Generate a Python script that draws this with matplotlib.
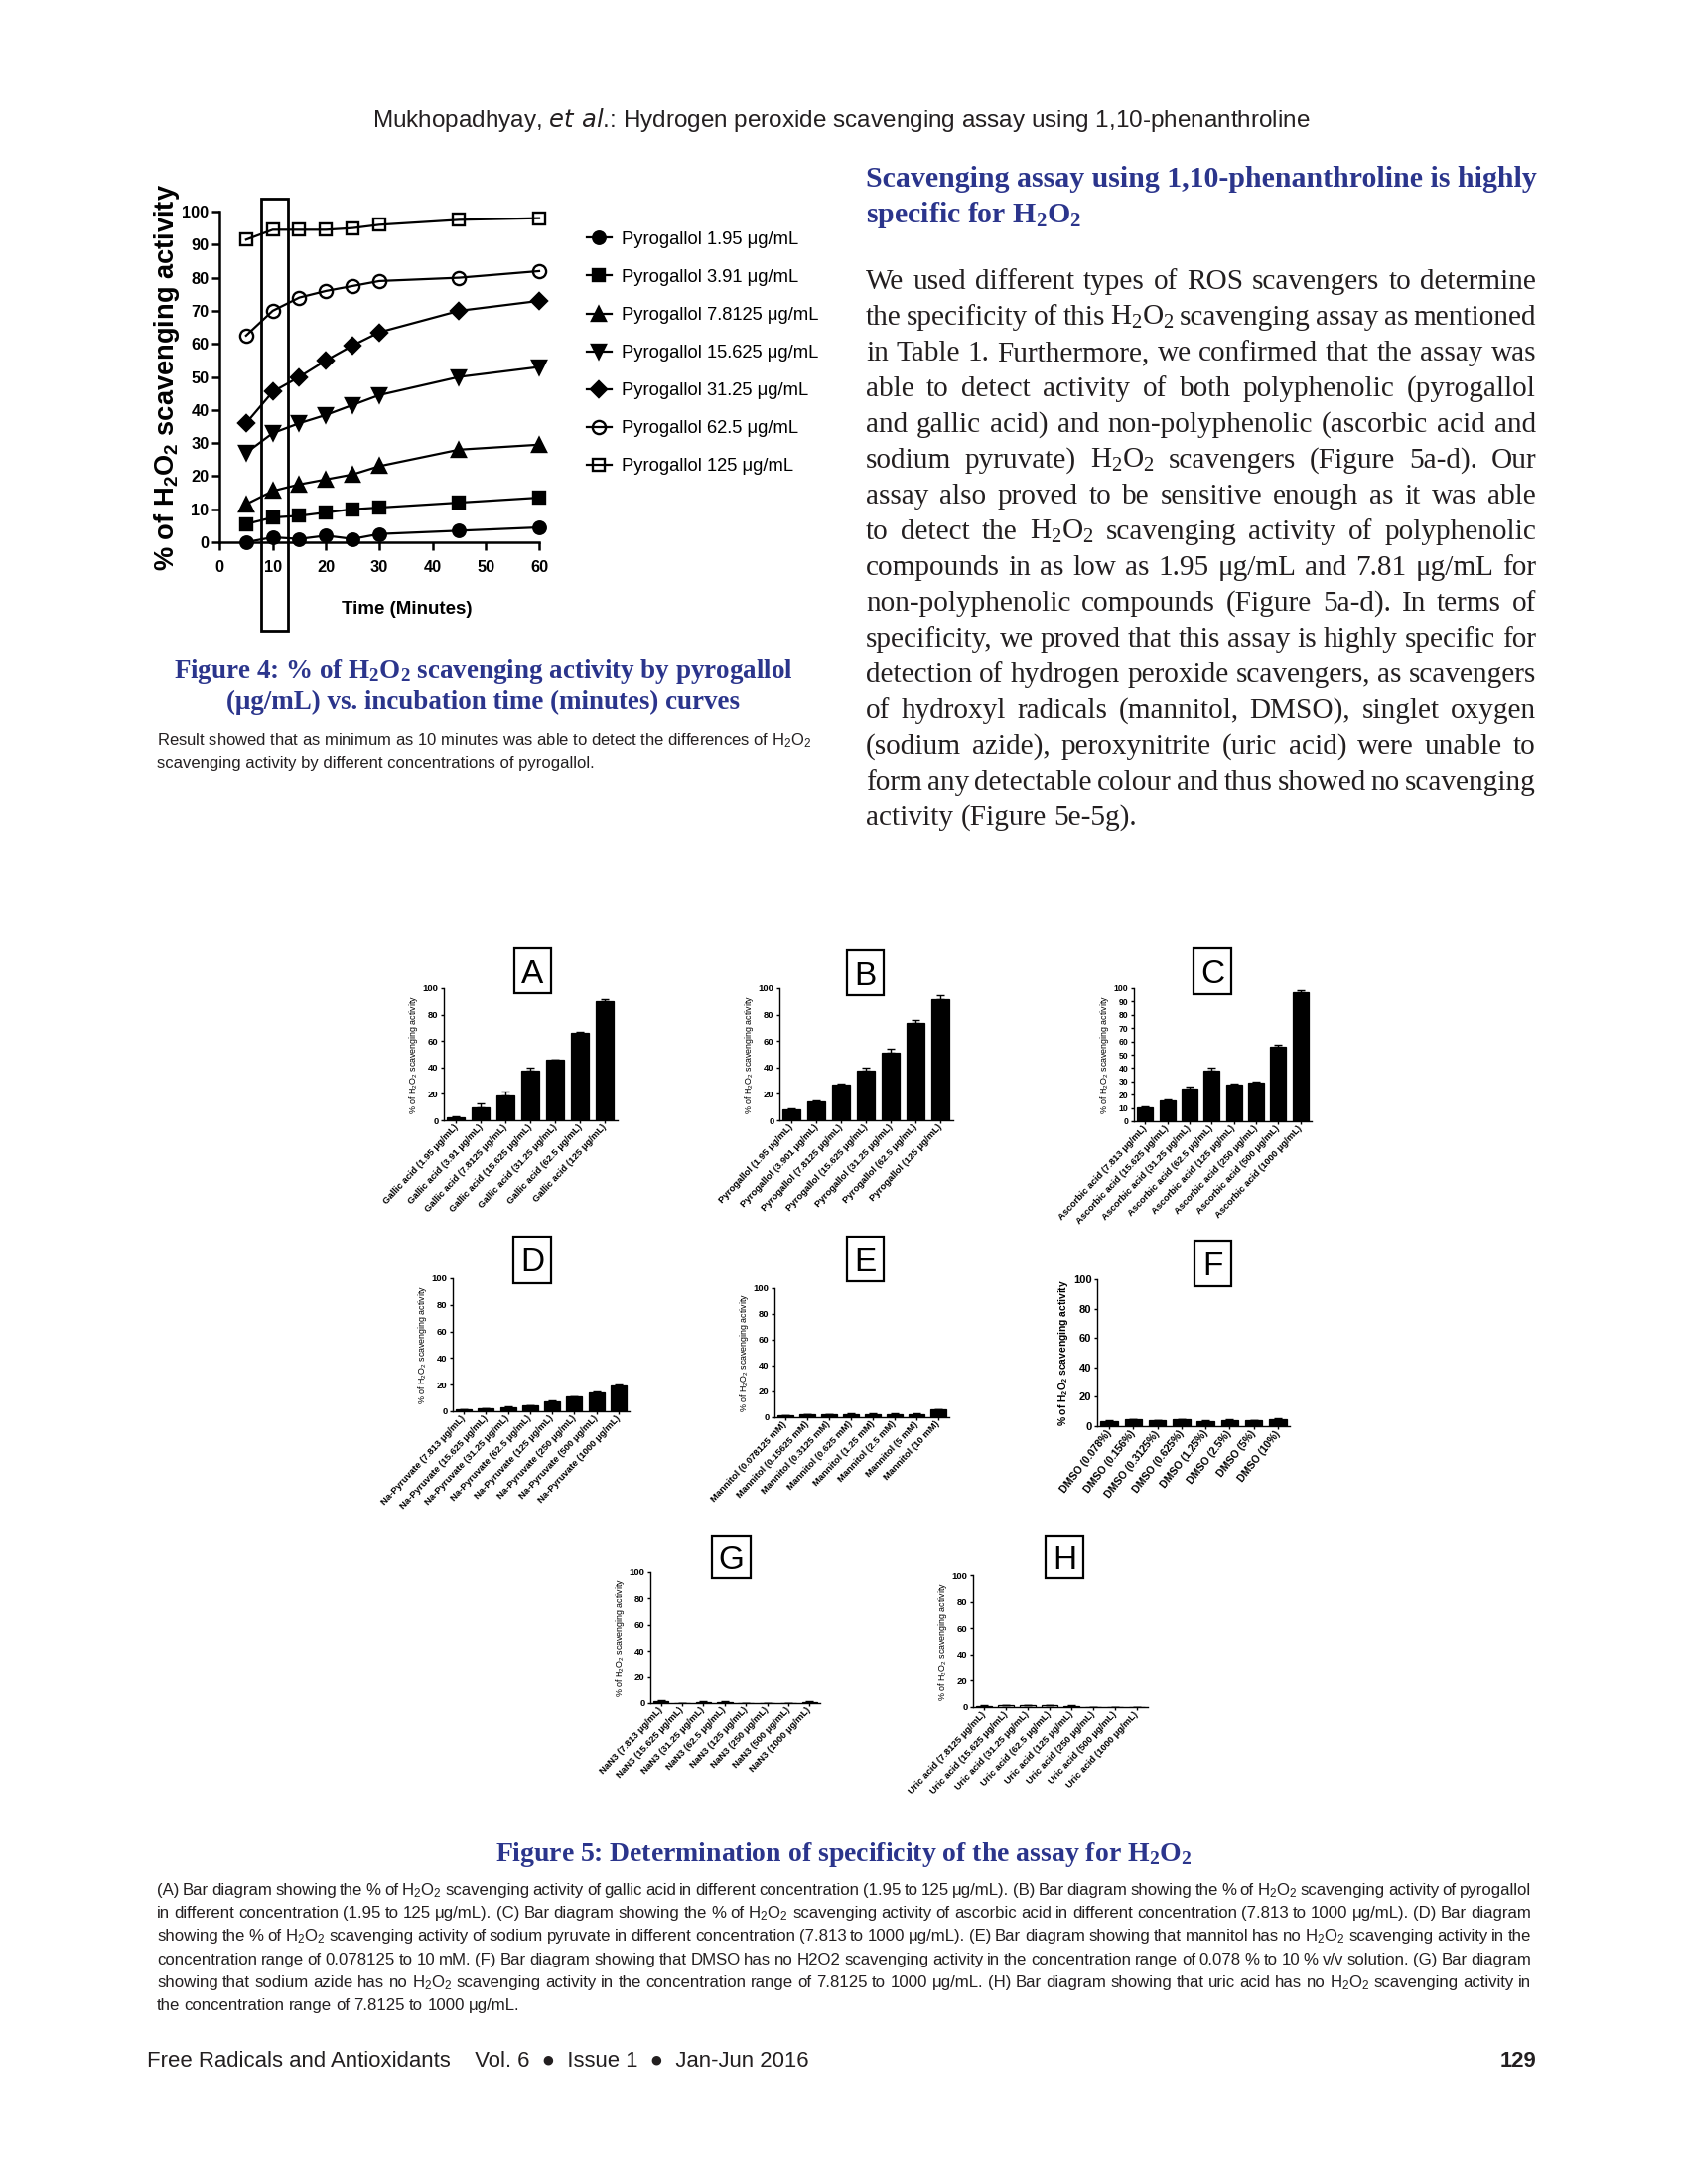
import matplotlib
matplotlib.use('Agg')
import matplotlib.pyplot as plt
from matplotlib import font_manager as fm
from matplotlib.patches import Rectangle
import numpy as np

# ---------------- data ----------------
time_min = [5, 10, 15, 20, 25, 30, 45, 60]
pyro_labels = ['Pyrogallol 1.95 μg/mL', 'Pyrogallol 3.91 μg/mL', 'Pyrogallol 7.8125 μg/mL',
               'Pyrogallol 15.625 μg/mL', 'Pyrogallol 31.25 μg/mL', 'Pyrogallol 62.5 μg/mL',
               'Pyrogallol 125 μg/mL']
pyro_1_95 = [0, 1.5, 1, 2, 1, 2.5, 3.5, 4.5]
pyro_3_91 = [5.5, 7.5, 8, 9, 10, 10.5, 12, 13.5]
pyro_7_8125 = [11.5, 15.5, 17.5, 19, 20.5, 23, 28, 29.5]
pyro_15_625 = [27, 33, 36, 38.5, 41.5, 44.5, 50, 53]
pyro_31_25 = [36, 45.5, 50, 55, 59.5, 63.5, 70, 73]
pyro_62_5 = [62.5, 70, 74, 76, 77.5, 79, 80, 82]
pyro_125 = [91.5, 94.5, 94.5, 94.5, 95, 96, 97.5, 98]
x_ticks4 = [0, 10, 20, 30, 40, 50, 60]
y_ticks4 = [0, 10, 20, 30, 40, 50, 60, 70, 80, 90, 100]

A_labels = ['Gallic acid (1.95 μg/mL)', 'Gallic acid (3.91 μg/mL)', 'Gallic acid (7.8125 μg/mL)',
            'Gallic acid (15.625 μg/mL)', 'Gallic acid (31.25 μg/mL)', 'Gallic acid (62.5 μg/mL)',
            'Gallic acid (125 μg/mL)']
A_vals = [2, 10, 18.5, 37.5, 45.5, 66, 90.5]
A_errs = [0.7, 2.5, 3, 2.5, 0.5, 1, 1]

B_labels = ['Pyrogallol (1.95 μg/mL)', 'Pyrogallol (3.901 μg/mL)', 'Pyrogallol (7.8125 μg/mL)',
            'Pyrogallol (15.625 μg/mL)', 'Pyrogallol (31.25 μg/mL)', 'Pyrogallol (62.5 μg/mL)',
            'Pyrogallol (125 μg/mL)']
B_vals = [8, 14, 27, 37.5, 51, 73.5, 91.5]
B_errs = [0.7, 1.3, 0.7, 2.5, 3, 2.5, 3.5]

C_labels = ['Ascorbic acid (7.813 μg/mL)', 'Ascorbic acid (15.625 μg/mL)', 'Ascorbic acid (31.25 μg/mL)',
            'Ascorbic acid (62.5 μg/mL)', 'Ascorbic acid (125 μg/mL)', 'Ascorbic acid (250 μg/mL)',
            'Ascorbic acid (500 μg/mL)', 'Ascorbic acid (1000 μg/mL)']
C_vals = [10.5, 15.5, 25, 38, 27.5, 29, 56, 97]
C_errs = [1, 0.7, 1, 2.5, 1, 0.7, 1.3, 1.3]

D_labels = ['Na-Pyruvate (7.813 μg/mL)', 'Na-Pyruvate (15.625 μg/mL)', 'Na-Pyruvate (31.25 μg/mL)',
            'Na-Pyruvate (62.5 μg/mL)', 'Na-Pyruvate (125 μg/mL)', 'Na-Pyruvate (250 μg/mL)',
            'Na-Pyruvate (500 μg/mL)', 'Na-Pyruvate (1000 μg/mL)']
D_vals = [1.5, 2, 3, 4.5, 7.5, 11, 14.5, 19.5]
D_errs = [0.3, 0.3, 0.4, 0.3, 0.4, 0.5, 0.5, 0.6]

E_labels = ['Mannitol (0.078125 mM)', 'Mannitol (0.15625 mM)', 'Mannitol (0.3125 mM)',
            'Mannitol (0.625 mM)', 'Mannitol (1.25 mM)', 'Mannitol (2.5 mM)',
            'Mannitol (5 mM)', 'Mannitol (10 mM)']
E_vals = [1.5, 2, 2, 2.5, 2.5, 2.5, 2.5, 6]
E_errs = [0.3, 0.2, 0.2, 0.3, 0.3, 0.3, 0.2, 0.5]

F_labels = ['DMSO (0.078%)', 'DMSO (0.156%)', 'DMSO (0.3125%)', 'DMSO (0.625%)',
            'DMSO (1.25%)', 'DMSO (2.5%)', 'DMSO (5%)', 'DMSO (10%)']
F_vals = [3.5, 4.5, 4, 4.5, 3.5, 4, 4, 4.5]
F_errs = [0.3, 0.4, 0.3, 0.5, 0.6, 0.4, 0.3, 0.6]

G_labels = ['NaN3 (7.813 μg/mL)', 'NaN3 (15.625 μg/mL)', 'NaN3 (31.25 μg/mL)', 'NaN3 (62.5 μg/mL)',
            'NaN3 (125 μg/mL)', 'NaN3 (250 μg/mL)', 'NaN3 (500 μg/mL)', 'NaN3 (1000 μg/mL)']
G_vals = [1.5, 0, 1, 1, 0, 0, 0, 1]
G_errs = [0.5, 0, 0.3, 0.3, 0, 0, 0, 0.3]

H_labels = ['Uric acid (7.8125 μg/mL)', 'Uric acid (15.625 μg/mL)', 'Uric acid (31.25 μg/mL)',
            'Uric acid (62.5 μg/mL)', 'Uric acid (125 μg/mL)', 'Uric acid (250 μg/mL)',
            'Uric acid (500 μg/mL)', 'Uric acid (1000 μg/mL)']
H_vals = [1, 1.5, 1.5, 1.5, 1, 0, 0, 0]
H_errs = [0.2, 0.3, 0.3, 0.3, 0.2, 0, 0, 0]

ticks_20 = [0, 20, 40, 60, 80, 100]
ticks_10 = [0, 10, 20, 30, 40, 50, 60, 70, 80, 90, 100]

header_text = 'Mukhopadhyay, $\\it{et\\ al}$.: Hydrogen peroxide scavenging assay using 1,10-phenanthroline'
fig4_cap = ['Figure 4: % of H$_2$O$_2$ scavenging activity by pyrogallol',
            '(μg/mL) vs. incubation time (minutes) curves']
fig4_note = ['Result showed that as minimum as 10 minutes was able to detect the differences of H$_2$O$_2$',
             'scavenging activity by different concentrations of pyrogallol.']
heading = ['Scavenging assay using 1,10-phenanthroline is highly', 'specific for H$_2$O$_2$']
body = [
    'We used different types of ROS scavengers to determine',
    'the specificity of this H$_2$O$_2$ scavenging assay as mentioned',
    'in Table 1. Furthermore, we confirmed that the assay was',
    'able to detect activity of both polyphenolic (pyrogallol',
    'and gallic acid) and non-polyphenolic (ascorbic acid and',
    'sodium pyruvate) H$_2$O$_2$ scavengers (Figure 5a-d). Our',
    'assay also proved to be sensitive enough as it was able',
    'to detect the H$_2$O$_2$ scavenging activity of polyphenolic',
    'compounds in as low as 1.95 μg/mL and 7.81 μg/mL for',
    'non-polyphenolic compounds (Figure 5a-d). In terms of',
    'specificity, we proved that this assay is highly specific for',
    'detection of hydrogen peroxide scavengers, as scavengers',
    'of hydroxyl radicals (mannitol, DMSO), singlet oxygen',
    '(sodium azide), peroxynitrite (uric acid) were unable to',
    'form any detectable colour and thus showed no scavenging',
    'activity (Figure 5e-5g).']
fig5_title = 'Figure 5: Determination of specificity of the assay for H$_2$O$_2$'
fig5_cap = [
    '(A) Bar diagram showing the % of H$_2$O$_2$ scavenging activity of gallic acid in different concentration (1.95 to 125 μg/mL). (B) Bar diagram showing the % of H$_2$O$_2$ scavenging activity of pyrogallol',
    'in different concentration (1.95 to 125 μg/mL). (C) Bar diagram showing the % of H$_2$O$_2$ scavenging activity of ascorbic acid in different concentration (7.813 to 1000 μg/mL). (D) Bar diagram',
    'showing the % of H$_2$O$_2$ scavenging activity of sodium pyruvate in different concentration (7.813 to 1000 μg/mL). (E) Bar diagram showing that mannitol has no H$_2$O$_2$ scavenging activity in the',
    'concentration range of 0.078125 to 10 mM. (F) Bar diagram showing that DMSO has no H2O2 scavenging activity in the concentration range of 0.078 % to 10 % v/v solution. (G) Bar diagram',
    'showing that sodium azide has no H$_2$O$_2$ scavenging activity in the concentration range of 7.8125 to 1000 μg/mL. (H) Bar diagram showing that uric acid has no H$_2$O$_2$ scavenging activity in',
    'the concentration range of 7.8125 to 1000 μg/mL.']
footer_left = 'Free Radicals and Antioxidants    Vol. 6  ●  Issue 1  ●  Jan-Jun 2016'
footer_right = '129'

# ---------------- setup ----------------
W, H = 1699, 2199
plt.rcParams['mathtext.default'] = 'regular'
plt.rcParams['font.family'] = ['Liberation Sans', 'DejaVu Sans']
names = {f.name for f in fm.fontManager.ttflist}
SANS = 'Liberation Sans'
NARROW = 'Liberation Sans Narrow' if 'Liberation Sans Narrow' in names else SANS
SERIF = 'Liberation Serif'
NAVY = '#2b358c'
INK = '#231f20'

fig = plt.figure(figsize=(W / 100, H / 100), dpi=100)
fig.patch.set_facecolor('white')
page = fig.add_axes([0, 0, 1, 1])
page.set_xlim(0, W)
page.set_ylim(H, 0)
page.axis('off')
R = fig.canvas.get_renderer()


def px_axes(l, t, r, b):
    ax = fig.add_axes([l / W, 1 - b / H, (r - l) / W, (b - t) / H])
    ax.patch.set_alpha(0)
    return ax


def tw(t):
    return t.get_window_extent(R).width


def measure(s, fs, **kw):
    t = page.text(0, 0, s, fontsize=fs, **kw)
    v = tw(t)
    t.remove()
    return v


def fit(x, y, s, width, fs=12, ha='left', **kw):
    t = page.text(x, y, s, fontsize=fs, ha=ha, va='baseline', **kw)
    t.set_fontsize(fs * width / tw(t))
    return t


def fit_fs(lines, width, fs0, gap_em, **kw):
    best = fs0
    for ln in lines[:-1]:
        words = ln.split(' ')
        ws = sum(measure(w, fs0, **kw) for w in words)
        need = ws + (len(words) - 1) * gap_em * fs0 * 100 / 72
        best = min(best, fs0 * width / need)
    return best


def justify(x0, x1, y, line, fs, last=False, **kw):
    words = line.split(' ')
    ts = [page.text(0, y, w, fontsize=fs, va='baseline', **kw) for w in words]
    ws = [tw(t) for t in ts]
    if last or len(words) == 1:
        gap = 0.25 * fs * 100 / 72
    else:
        gap = (x1 - x0 - sum(ws)) / (len(words) - 1)
    x = x0
    for t, w in zip(ts, ws):
        t.set_x(x)
        x += w + gap


# ---------------- page texts ----------------
fit(847, 128, header_text, 944, fs=16, ha='center', family=[SANS, 'DejaVu Sans'], color=INK)

t1 = fit(487, 683, fig4_cap[0], 624, fs=17, ha='center', family=SERIF, fontweight='bold', color=NAVY)
page.text(487, 714, fig4_cap[1], fontsize=t1.get_fontsize(), ha='center', va='baseline',
          family=SERIF, fontweight='bold', color=NAVY)
t2 = fit(158, 750, fig4_note[0], 658, fs=10, family=NARROW, color=INK)
page.text(158, 773, fig4_note[1], fontsize=t2.get_fontsize(), va='baseline', family=NARROW, color=INK)

t3 = fit(872, 188, heading[0], 675, fs=18, family=SERIF, fontweight='bold', color=NAVY)
page.text(872, 224, heading[1], fontsize=t3.get_fontsize(), va='baseline', family=SERIF,
          fontweight='bold', color=NAVY)

fs_body = fit_fs(body, 675, 22, 0.18, family=SERIF)
for i, ln in enumerate(body):
    justify(872, 1547, 291 + 36.0 * i, ln, fs_body, last=(i == len(body) - 1), family=SERIF, color=INK)

fit(850, 1874, fig5_title, 703, fs=17, ha='center', family=SERIF, fontweight='bold', color=NAVY)
fs_cap = fit_fs(fig5_cap, 1384, 13, 0.2, family=NARROW)
for i, ln in enumerate(fig5_cap):
    justify(158, 1542, 1908 + 23.2 * i, ln, fs_cap, last=(i == len(fig5_cap) - 1), family=NARROW, color=INK)

tf = fit(148, 2081, footer_left, 665, fs=13, family=[SANS, 'DejaVu Sans'], color=INK)
page.text(1547, 2081, footer_right, fontsize=tf.get_fontsize(), ha='right', va='baseline',
          family=SANS, fontweight='bold', color=INK)

# ---------------- Figure 4 ----------------
ax4 = px_axes(221, 213, 543, 546)
series4 = [pyro_1_95, pyro_3_91, pyro_7_8125, pyro_15_625, pyro_31_25, pyro_62_5, pyro_125]
mk = ['o', 's', '^', 'v', 'D', 'o', 's']
msz = [9.0, 8.5, 9.5, 9.5, 8.5, 9.5, 9.0]
mfc = ['black', 'black', 'black', 'black', 'black', 'none', 'none']
for vals, m, s, fc in zip(series4, mk, msz, mfc):
    ax4.plot(time_min, vals, color='black', lw=1.6, marker=m, ms=s, mfc=fc, mec='black', mew=1.7,
             clip_on=False, zorder=3)
ax4.set_xlim(0, 60)
ax4.set_ylim(0, 100)
ax4.set_xticks(x_ticks4)
ax4.set_yticks(y_ticks4)
for sp in ['top', 'right']:
    ax4.spines[sp].set_visible(False)
for sp in ['left', 'bottom']:
    ax4.spines[sp].set_linewidth(1.8)
tick_fs4 = 12.6 if NARROW != SANS else 11.8
ax4.tick_params(axis='both', direction='out', length=6, width=1.8, labelsize=tick_fs4)
ax4.tick_params(axis='x', pad=7)
ax4.tick_params(axis='y', pad=1.5)
for lbl in ax4.get_xticklabels() + ax4.get_yticklabels():
    lbl.set_fontfamily(NARROW)
    lbl.set_fontweight('bold')
ax4.add_patch(Rectangle((7.8, -26.6), 5.0, 130.4, fill=False, ec='black', lw=2.0, clip_on=False,
                        transform=ax4.transData))
yl = ax4.set_ylabel('% of H$_2$O$_2$ scavenging activity', fontsize=15, fontweight='bold', family=SANS)
yl.set_fontsize(15 * 391 / yl.get_window_extent(R).height)
ax4.yaxis.set_label_coords(-0.118, 0.5)
xl = ax4.set_xlabel('Time (Minutes)', fontsize=13, fontweight='bold', family=NARROW)
xl.set_fontsize(13 * 132 / xl.get_window_extent(R).width)
ax4.xaxis.set_label_coords(0.587, -0.178)

# legend (manual, page pixel coordinates)
leg_rows = [239, 277, 316, 354, 392, 430, 468]
fs_leg = 12
wl = measure(pyro_labels[2], fs_leg, family=NARROW)
fs_leg = fs_leg * 200 / wl
for yrow, lab, m, s, fc in zip(leg_rows, pyro_labels, mk, msz, mfc):
    page.plot([591, 616], [yrow, yrow], color='black', lw=1.6)
    page.plot([603], [yrow], marker=m, ms=s, mfc=fc, mec='black', mew=1.7, color='black')
    page.text(626, yrow + 6.5, lab, fontsize=fs_leg, va='baseline', family=NARROW, color='black')


# ---------------- Figure 5 panels ----------------
def bar_panel(box, lbox, letter, labels, vals, errs, yticks, tick_fs=6.8, lab_fs=6.8,
              ylab_fs=6.4, bold_ylab=False, faces=None, rot=47):
    l, t, r, b = box
    ax = px_axes(l, t, r, b)
    n = len(vals)
    x = np.arange(n)
    ax.bar(x, vals, width=0.72, color=faces if faces else 'black', edgecolor='black',
           linewidth=0.9, zorder=2)
    ax.errorbar(x, vals, yerr=[np.zeros(n), errs], fmt='none', ecolor='black', elinewidth=1.0,
                capsize=2.6, capthick=1.0, zorder=3)
    ax.set_xlim(-0.5, n - 0.5)
    ax.set_ylim(0, 100)
    for sp in ['top', 'right']:
        ax.spines[sp].set_visible(False)
    for sp in ['left', 'bottom']:
        ax.spines[sp].set_linewidth(1.0)
    ax.set_xticks(x)
    ax.set_xticklabels(labels, rotation=rot, ha='right', va='center', rotation_mode='anchor',
                       fontsize=lab_fs, fontweight='bold')
    ax.set_yticks(yticks)
    ax.set_yticklabels([str(v) for v in yticks], fontsize=tick_fs, fontweight='bold')
    ax.tick_params(axis='both', direction='out', length=2.5, width=1.0, pad=1.5)
    ax.set_ylabel('% of H$_2$O$_2$ scavenging activity', fontsize=ylab_fs,
                  fontweight='bold' if bold_ylab else 'normal', labelpad=2)
    x0, y0, x1, y1 = lbox
    page.add_patch(Rectangle((x0, y0), x1 - x0, y1 - y0, fill=False, ec='black', lw=1.6))
    page.text((x0 + x1) / 2, (y0 + y1) / 2 + 12, letter, ha='center', va='baseline', fontsize=24,
              family=SANS, color='black')
    return ax


bar_panel((447, 995, 622, 1128), (518, 955, 555, 1000), 'A', A_labels, A_vals, A_errs, ticks_20)
bar_panel((785, 995, 960, 1128), (853, 957, 890, 1002), 'B', B_labels, B_vals, B_errs, ticks_20)
bar_panel((1142, 995, 1321, 1129), (1202, 955, 1240, 1001), 'C', C_labels, C_vals, C_errs, ticks_10,
          tick_fs=6.2)
bar_panel((456, 1287, 634, 1421), (517, 1245, 555, 1292), 'D', D_labels, D_vals, D_errs, ticks_20)
bar_panel((780, 1297, 956, 1427), (853, 1245, 890, 1290), 'E', E_labels, E_vals, E_errs, ticks_20)
bar_panel((1105, 1288, 1299, 1436), (1203, 1250, 1240, 1295), 'F', F_labels, F_vals, F_errs, ticks_20,
          tick_fs=8.0, lab_fs=7.6, ylab_fs=7.4, bold_ylab=True, rot=52)
bar_panel((655, 1583, 826, 1715), (717, 1547, 756, 1589), 'G', G_labels, G_vals, G_errs, ticks_20)
H_faces = ['black', 'white', 'white', 'white', 'black', 'black', 'black', 'black']
bar_panel((980, 1586, 1156, 1719), (1053, 1547, 1091, 1589), 'H', H_labels, H_vals, H_errs, ticks_20,
          faces=H_faces)

fig.savefig('out.png', dpi=100, facecolor='white')
